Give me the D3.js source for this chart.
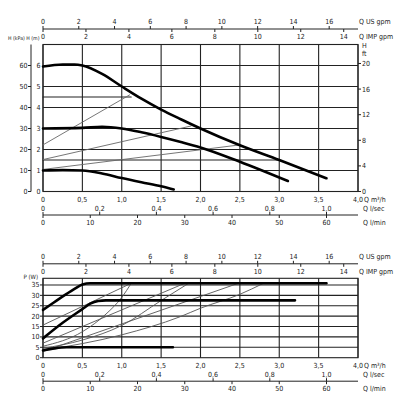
<!DOCTYPE html>
<html><head><meta charset="utf-8">
<script src="https://cdn.jsdelivr.net/npm/d3@7/dist/d3.min.js"></script>
<style>
body{margin:0;background:#fff}
text{font-family:"Liberation Sans Narrow","DejaVu Sans Condensed","Open Sans",sans-serif;font-size:7px;fill:#222}
</style></head><body>
<svg id="c" width="400" height="410"></svg>
<script>
// ---------- DATA ----------
const qTicks = [0,0.5,1.0,1.5,2.0,2.5,3.0,3.5,4.0];
const qLabels = ["0","0,5","1,0","1,5","2,0","2,5","3,0","3,5","4,0"];
const usGpmTicks = [0,2,4,6,8,10,12,14,16];
const impGpmTicks = [0,2,4,6,8,10,12,14];
const lsTicks = [0,0.2,0.4,0.6,0.8,1.0];
const lsLabels = ["0","0,2","0,4","0,6","0,8","1,0"];
const lminTicks = [0,10,20,30,40,50,60];
const kPaTicks = [0,10,20,30,40,50,60];
const mTicks = [0,1,2,3,4,5,6];
const ftTicks = [0,4,8,12,16,20];
const pTicks = [0,5,10,15,20,25,30,35];

// head curves (Q m3/h, H m) - fixed speeds
const headIII = [[0,5.95],[0.25,6.05],[0.4,6.05],[0.5,6.0],[0.75,5.6],[1.0,5.0],[1.25,4.42],[1.5,3.9],[1.75,3.44],[2.0,3.0],[2.5,2.2],[3.0,1.5],[3.6,0.63]];
const headII  = [[0,3.0],[0.5,3.03],[0.75,3.08],[1.0,3.0],[1.25,2.82],[1.5,2.6],[1.75,2.36],[2.0,2.1],[2.5,1.42],[3.11,0.5]];
const headI   = [[0,1.0],[0.25,1.02],[0.5,1.0],[0.75,0.86],[1.0,0.64],[1.25,0.44],[1.5,0.25],[1.66,0.1]];
// proportional pressure lines
const headPP3 = [[0,2.22],[1.1,4.6]];
const headPP2 = [[0,1.52],[1.88,3.12]];
const headPP1 = [[0,1.05],[2.5,2.22]];
// constant pressure lines
const headCP3 = [[0,4.5],[1.12,4.5]];
const headCP1 = [[0,1.5],[3.0,1.5]];

// power curves (Q m3/h, P W)
const powIII = [[0,23],[0.1,25.6],[0.2,28.2],[0.3,30.7],[0.4,33.1],[0.5,35.2],[0.6,35.8],[3.6,35.8]];
const powII  = [[0,9.3],[0.25,16.8],[0.5,23.4],[0.6,26.0],[0.7,27.3],[0.8,27.6],[3.2,27.6]];
const powI   = [[0,3.5],[0.15,4.5],[0.3,5],[1.65,5]];
const powPP3 = [[0,15.7],[1.12,35.8]];
const powCP3 = [[0,5.5],[0.5,12.5],[0.8,21],[1.0,29],[1.12,35.8]];
const powPP2 = [[0,7],[1.8,35.8]];
const powCP2 = [[0,4.5],[0.5,8.5],[1.0,15.5],[1.5,27.5],[1.85,35.8]];
const powPP1 = [[0,3],[2.48,35.8]];
const powCP1 = [[0,3.5],[1.0,11],[1.74,19.7],[2.0,23.8],[2.5,30.5],[2.8,35.8]];

// ---------- CONVERSIONS ----------
const GPM_US = 0.227125, GPM_IMP = 0.272765, LS = 3.6, LMIN = 0.06, FT = 0.3048;

const svg = d3.select("#c");
const x = d3.scaleLinear().domain([0,4]).range([43,358]);
const yH = d3.scaleLinear().domain([0,7]).range([191.5,44.5]);
const yP = d3.scaleLinear().domain([0,38.2]).range([357.7,278.3]);
const gridC = "#222";

function grid(g, y, hTicks, top, bottom){
  g.selectAll(null).data(qTicks).enter().append("line")
   .attr("x1",d=>x(d)).attr("x2",d=>x(d)).attr("y1",top).attr("y2",bottom)
   .attr("stroke",gridC).attr("stroke-width",1.1);
  g.selectAll(null).data(hTicks).enter().append("line")
   .attr("x1",x(0)).attr("x2",x(4)).attr("y1",d=>y(d)).attr("y2",d=>y(d))
   .attr("stroke",gridC).attr("stroke-width",1.1);
  g.append("rect").attr("x",x(0)).attr("y",top).attr("width",x(4)-x(0)).attr("height",bottom-top)
   .attr("fill","none").attr("stroke",gridC).attr("stroke-width",1.1);
}

function topAxes(g, top){
  const yl = top-15.5;
  g.append("line").attr("x1",x(0)).attr("x2",x(4)).attr("y1",yl).attr("y2",yl).attr("stroke",gridC).attr("stroke-width",1);
  g.selectAll(null).data(usGpmTicks).enter().append("line")
   .attr("x1",d=>x(d*GPM_US)).attr("x2",d=>x(d*GPM_US)).attr("y1",yl-3).attr("y2",yl).attr("stroke",gridC);
  g.selectAll(null).data(usGpmTicks).enter().append("text")
   .attr("x",d=>x(d*GPM_US)).attr("y",yl-5).attr("text-anchor","middle").text(d=>d);
  g.selectAll(null).data(impGpmTicks).enter().append("line")
   .attr("x1",d=>x(d*GPM_IMP)).attr("x2",d=>x(d*GPM_IMP)).attr("y1",yl).attr("y2",yl+3).attr("stroke",gridC);
  g.selectAll(null).data(impGpmTicks).enter().append("text")
   .attr("x",d=>x(d*GPM_IMP)).attr("y",yl+10).attr("text-anchor","middle").text(d=>d);
  g.append("text").attr("x",359).attr("y",yl-5).text("Q US gpm");
  g.append("text").attr("x",359).attr("y",yl+10).text("Q IMP gpm");
}

function bottomAxes(g, bottom){
  g.selectAll(null).data(qTicks).enter().append("text")
   .attr("x",(d)=>x(d)).attr("y",bottom+10).attr("text-anchor","middle").text((d,i)=>qLabels[i]);
  g.append("text").attr("x",364).attr("y",bottom+10).text("Q m³/h");
  g.selectAll(null).data(lsTicks).enter().append("text")
   .attr("x",d=>x(d*LS)).attr("y",bottom+19).attr("text-anchor","middle").text((d,i)=>lsLabels[i]);
  g.append("text").attr("x",363).attr("y",bottom+19).text("Q l/sec");
  const yl = bottom+23.5;
  g.append("line").attr("x1",x(0)).attr("x2",x(4)).attr("y1",yl).attr("y2",yl).attr("stroke",gridC).attr("stroke-width",1);
  g.selectAll(null).data(lsTicks).enter().append("line")
   .attr("x1",d=>x(d*LS)).attr("x2",d=>x(d*LS)).attr("y1",yl-3).attr("y2",yl).attr("stroke",gridC);
  g.selectAll(null).data(lminTicks).enter().append("line")
   .attr("x1",d=>x(d*LMIN)).attr("x2",d=>x(d*LMIN)).attr("y1",yl).attr("y2",yl+3).attr("stroke",gridC);
  g.selectAll(null).data(lminTicks).enter().append("text")
   .attr("x",d=>x(d*LMIN)).attr("y",yl+9.5).attr("text-anchor","middle").text(d=>d);
  g.append("text").attr("x",363).attr("y",yl+9.5).text("Q l/min");
}

function curve(g, y, data, w, col, smooth){
  const ln = d3.line().x(d=>x(d[0])).y(d=>y(d[1])).curve(smooth?d3.curveMonotoneX:d3.curveLinear);
  g.append("path").attr("d",ln(data)).attr("fill","none").attr("stroke",col).attr("stroke-width",w)
   .attr("stroke-linecap","round").attr("stroke-linejoin","round");
}

// ---------- TOP CHART ----------
const gt = svg.append("g");
grid(gt, yH, mTicks, yH(7), yH(0));
[headCP3, headCP1].forEach(d=>curve(gt,yH,d,1.1,gridC,false));
[headPP3, headPP2, headPP1].forEach(d=>curve(gt,yH,d,0.9,"#666",false));
[headIII, headII, headI].forEach(d=>curve(gt,yH,d,2.6,"#000",true));
topAxes(gt, yH(7));
bottomAxes(gt, yH(0));
gt.append("line").attr("x1",31).attr("x2",31).attr("y1",yH(7)).attr("y2",yH(0)).attr("stroke",gridC);
gt.selectAll(null).data(kPaTicks).enter().append("line")
  .attr("x1",28).attr("x2",31).attr("y1",d=>yH(d/10)).attr("y2",d=>yH(d/10)).attr("stroke",gridC);
gt.selectAll(null).data(kPaTicks).enter().append("text")
  .attr("x",27.5).attr("y",d=>yH(d/10)+2.5).attr("text-anchor","end").text(d=>d);
gt.selectAll(null).data(mTicks).enter().append("text")
  .attr("x",38.5).attr("y",d=>yH(d)+2.5).attr("text-anchor","middle").text(d=>d);
gt.append("text").attr("x",39.5).attr("y",39.5).attr("text-anchor","end").style("font-size","5.2px").text("H (kPa) H (m)");
gt.selectAll(null).data(ftTicks).enter().append("line")
  .attr("x1",358).attr("x2",361).attr("y1",d=>yH(d*FT)).attr("y2",d=>yH(d*FT)).attr("stroke",gridC);
gt.selectAll(null).data(ftTicks).enter().append("text")
  .attr("x",362).attr("y",d=>yH(d*FT)+2.5).text(d=>d);
gt.append("text").attr("x",362).attr("y",48).text("H");
gt.append("text").attr("x",362).attr("y",55.5).text("ft");

// ---------- BOTTOM CHART ----------
const gb = svg.append("g");
grid(gb, yP, pTicks.slice(1), yP(38.2), yP(0));
[powPP3, powPP2, powPP1].forEach(d=>curve(gb,yP,d,0.9,"#555",false));
[powCP3, powCP2, powCP1].forEach(d=>curve(gb,yP,d,0.9,"#555",true));
[powIII, powII, powI].forEach(d=>curve(gb,yP,d,2.6,"#000",true));
topAxes(gb, yP(38.2)+1);
bottomAxes(gb, yP(0));
gb.selectAll(null).data(pTicks).enter().append("line")
  .attr("x1",40).attr("x2",43).attr("y1",d=>yP(d)).attr("y2",d=>yP(d)).attr("stroke",gridC);
gb.selectAll(null).data(pTicks).enter().append("text")
  .attr("x",39.5).attr("y",d=>yP(d)+2.5).attr("text-anchor","end").text(d=>d);
gb.append("text").attr("x",38).attr("y",279).attr("text-anchor","end").style("font-size","6px").text("P (W)");
</script></body></html>
